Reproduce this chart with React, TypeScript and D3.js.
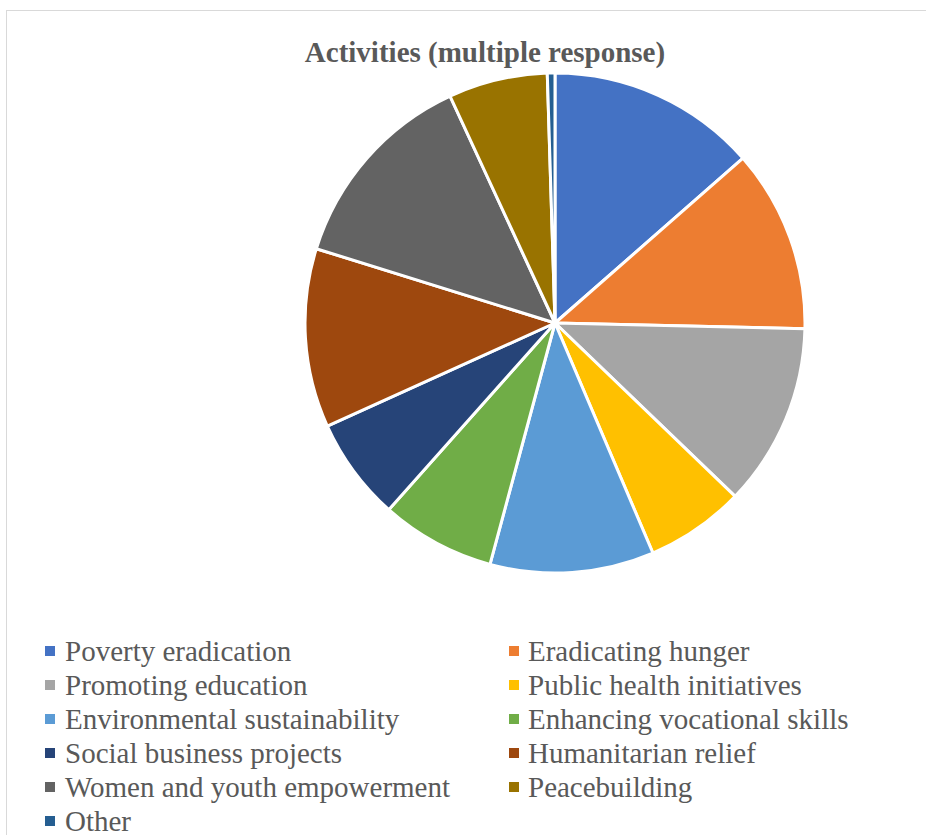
import React from "react";
import * as d3 from "d3";

const categories = [
  "Poverty eradication",
  "Eradicating hunger",
  "Promoting education",
  "Public health initiatives",
  "Environmental sustainability",
  "Enhancing vocational skills",
  "Social business projects",
  "Humanitarian relief",
  "Women and youth empowerment",
  "Peacebuilding",
  "Other",
];
const values = [55, 48, 48, 26, 43, 30, 27, 47, 54, 26, 2];
const colors = [
  "#4472C4",
  "#ED7D31",
  "#A5A5A5",
  "#FFC000",
  "#5B9BD5",
  "#70AD47",
  "#264478",
  "#9E480E",
  "#636363",
  "#997300",
  "#255E91",
];
const title = "Activities (multiple response)";

export default function App() {
  const W = 926;
  const H = 835;
  const cx = 555;
  const cy = 323;
  const r = 250;
  const pie = d3.pie<number>().sort(null).value((d) => d);
  const arcs = pie(values);
  const arc = d3.arc<d3.PieArcDatum<number>>().innerRadius(0).outerRadius(r);
  const font = "'Liberation Serif', 'Times New Roman', serif";
  const colX = [45, 509];
  const textX = [65, 528];
  const rowY = (i: number) => 651 + i * 34;
  return (
    <svg
      width={W}
      height={H}
      style={{ position: "absolute", left: 0, top: 0, background: "#fff" }}
    >
      <rect x={6.5} y={10.5} width={W} height={H} fill="#fff" stroke="#d9d9d9" strokeWidth={1} />
      <text
        x={485}
        y={62}
        textAnchor="middle"
        fontFamily={font}
        fontWeight="bold"
        fontSize={29}
        fill="#595959"
      >
        {title}
      </text>
      <g transform={`translate(${cx},${cy})`}>
        {arcs.map((a, i) => (
          <path key={i} d={arc(a) || ""} fill={colors[i]} stroke="#fff" strokeWidth={3} strokeLinejoin="round" />
        ))}
      </g>
      {categories.map((c, i) => {
        const col = i % 2;
        const row = Math.floor(i / 2);
        const y = rowY(row);
        return (
          <g key={c}>
            <rect x={colX[col]} y={y - 5} width={10} height={10} fill={colors[i]} />
            <text x={textX[col]} y={y} dy="0.33em" fontFamily={font} fontSize={29} fill="#595959">
              {c}
            </text>
          </g>
        );
      })}
    </svg>
  );
}
